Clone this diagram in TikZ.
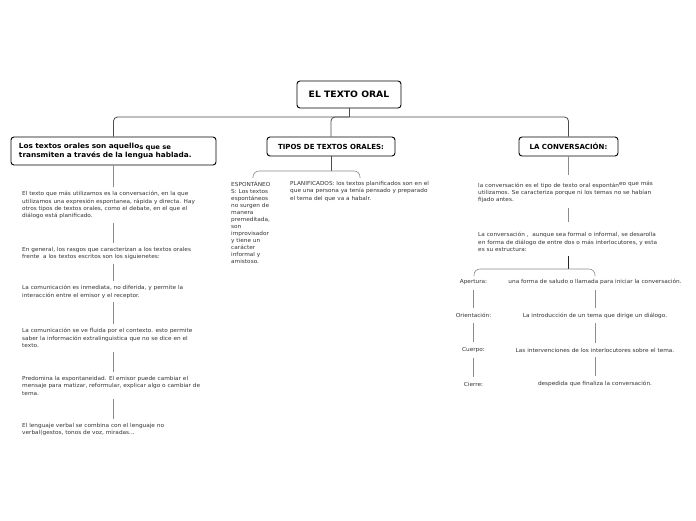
\documentclass[tikz,border=0pt]{standalone}
\usepackage{fontspec}
\setmainfont{DejaVu Sans}
\newfontfamily\widesans[FakeStretch=1.05]{DejaVu Sans}
\begin{document}
\begin{tikzpicture}[x=1pt,y=-1pt,
 box/.style={draw=black, line width=0.9pt, rounded corners=3pt, fill=white, inner sep=0pt, font=\bfseries\fontsize{7}{8}\selectfont},
 conn/.style={draw=black!70, line width=0.8pt, rounded corners=4pt},
 gl/.style={draw=black!45, line width=0.6pt},
 dl/.style={draw=black!85, line width=0.7pt},
 txt/.style={inner sep=0pt, anchor=north west, align=left, text=black!80, font=\widesans\fontsize{5.5}{7.4}\selectfont},
 lab/.style={inner sep=0pt, text=black!80, font=\widesans\fontsize{5.5}{7.4}\selectfont}]
\useasboundingbox (0,0) rectangle (696,520);
\fill[white] (0,0) rectangle (696,520);

% headers
\node[box, minimum width=104pt, minimum height=27pt, font=\widesans\bfseries\fontsize{8.8}{10}\selectfont] (title) at (349,94.5) {EL TEXTO ORAL};
\node[box, text width=189pt, inner xsep=8pt, minimum height=28pt, align=left, font=\widesans\bfseries\fontsize{7}{8.2}\selectfont] (lbox) at (113.5,151) {Los textos orales son aquello\raisebox{-1pt}{\fontsize{6.5}{7}\selectfont s que se}\\transmiten a través de la lengua hablada.};
\node[box, minimum width=128pt, minimum height=19pt] (tbox) at (331,146.5) {TIPOS DE TEXTOS ORALES:};
\node[box, minimum width=99pt, minimum height=19pt] (cbox) at (568.5,146.5) {LA CONVERSACIÓN:};

\coordinate (j) at (349,117);
\draw[conn] (title.south) -- (j);
\draw[conn] (j) -| (lbox.north);
\draw[conn] (j) -| (tbox.north);
\draw[conn] (j) -| (cbox.north);

% left column
\node[txt] (l1) at (22,191) {El texto que más utilizamos es la conversación, en la que\\utilizamos una expresión espontanea, rápida y directa. Hay\\otros tipos de textos orales, como el debate, en el que el\\diálogo está planificado.};
\node[txt] (l2) at (22,247) {En general, los rasgos que caracterizan a los textos orales\\frente\ \ a los textos escritos son los siguienetes:};
\node[txt] (l3) at (22,285) {La comunicación es inmediata, no diferida, y permite la\\interacción entre el emisor y el receptor.};
\node[txt] (l4) at (22,328) {La comunicación se ve fluida por el contexto. esto permite\\saber la información extralinguistica que no se dice en el\\texto.};
\node[txt] (l5) at (22,376) {Predomina la espontaneidad. El emisor puede cambiar el\\mensaje para matizar, reformular, explicar algo o cambiar de\\tema.};
\node[txt] (l6) at (22,423) {El lenguaje verbal se combina con el lenguaje no\\verbal(gestos, tonos de voz, miradas...};

\draw[gl] (lbox.south) -- ++(0,22);
\draw[gl] ([yshift=-4pt]l1.south -| lbox.south) -- ([yshift=4pt]l2.north -| lbox.south);
\draw[gl] ([yshift=-4pt]l2.south -| lbox.south) -- ([yshift=4pt]l3.north -| lbox.south);
\draw[gl] ([yshift=-4pt]l3.south -| lbox.south) -- ([yshift=4pt]l4.north -| lbox.south);
\draw[gl] ([yshift=-4pt]l4.south -| lbox.south) -- ([yshift=4pt]l5.north -| lbox.south);
\draw[gl] ([yshift=-4pt]l5.south -| lbox.south) -- ([yshift=4pt]l6.north -| lbox.south);

% middle column
\coordinate (mb) at (331,171);
\draw[conn] (tbox.south) -- (mb);
\draw[gl, rounded corners=6pt] (253,178) |- (mb) -| (360,178);
\node[txt, font=\widesans\fontsize{5.5}{7.0}\selectfont] (esp) at (231,181) {ESPONTÁNEO\\S: Los textos\\espontáneos\\no surgen de\\manera\\premeditada,\\son\\improvisador\\y tiene un\\carácter\\informal y\\amistoso.};
\node[txt] (pla) at (290,181) {PLANIFICADOS: los textos planificados son en el\\que una persona ya tenía pensado y preparado\\el tema del que va a habalr.};

% right column
\draw[gl] (cbox.south) -- ++(0,19);
\node[txt] (r1) at (478,181) {la conversación es el tipo de texto oral espontán\raisebox{1.5pt}{eo que más}\\utilizamos. Se caracteriza porque ni los temas no se habían\\fijado antes.};
\node[txt] (r2) at (478,232) {La conversación ,\ \ aunque sea formal o informal, se desarolla\\en forma de diálogo de entre dos o más interlocutores, y esta\\es su estructura:};
\draw[gl] ([yshift=-5pt]r1.south -| cbox.south) -- ([yshift=10pt]r2.north -| cbox.south);
\coordinate (rb) at (568.5,269);
\draw[dl] ([yshift=-4pt]r2.south -| cbox.south) -- (rb);
\draw[gl, rounded corners=6pt] (474,276) |- (rb) -| (595,276);

\node[lab] (a1) at (473.5,282) {Apertura:};
\node[lab] (a2) at (473.5,315.5) {Orientación:};
\node[lab] (a3) at (473.5,350) {Cuerpo:};
\node[lab] (a4) at (473.5,384) {Cierre:};
\node[lab] (b1) at (595,282) {una forma de saludo o llamada para iniciar la conversación.};
\node[lab] (b2) at (595,315.5) {La introducción de un tema que dirige un diálogo.};
\node[lab] (b3) at (595,350) {Las intervenciones de los interlocutores sobre el tema.};
\node[lab] (b4) at (595,384) {despedida que finaliza la conversación.};

\draw[gl] ([yshift=-5pt]a1.south) -- ([yshift=5pt]a2.north);
\draw[gl] ([yshift=-5pt]a2.south) -- ([yshift=5pt]a3.north);
\draw[gl] ([yshift=-5pt]a3.south) -- ([yshift=5pt]a4.north);
\draw[gl] ([yshift=-5pt]b1.south) -- ([yshift=5pt]b2.north);
\draw[gl] ([yshift=-5pt]b2.south) -- ([yshift=5pt]b3.north);
\draw[gl] ([yshift=-5pt]b3.south) -- ([yshift=5pt]b4.north);
\end{tikzpicture}
\end{document}
